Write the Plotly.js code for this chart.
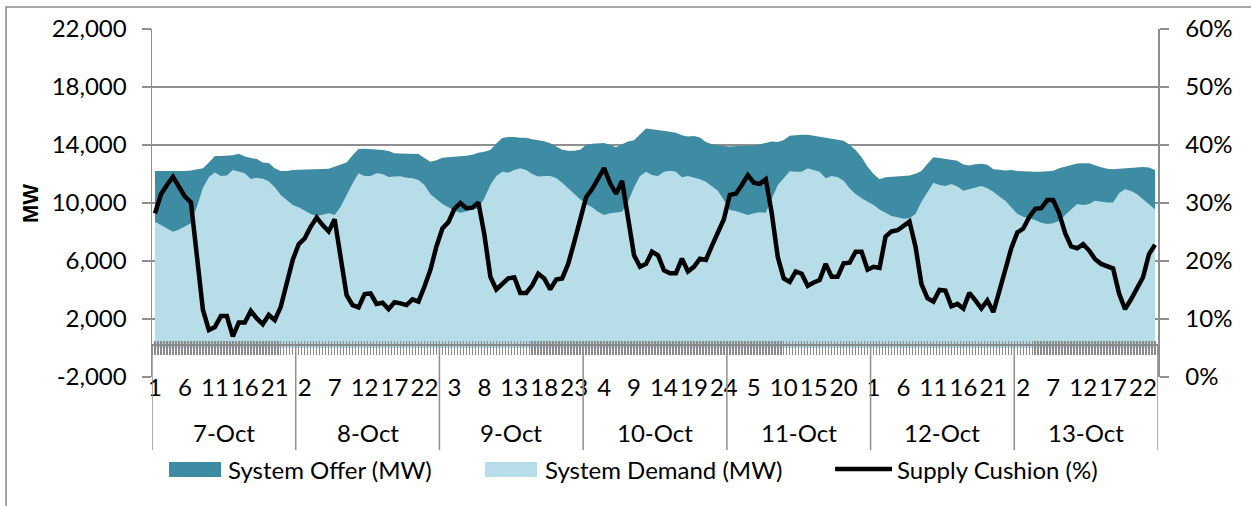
<!DOCTYPE html>
<html>
<head>
<meta charset="utf-8">
<script src="https://cdn.plot.ly/plotly-3.0.1.min.js"></script>
<style>
  html, body { margin: 0; padding: 0; background: #ffffff; }
  #chart { width: 1251px; height: 506px; }
</style>
</head>
<body>
<div id="chart"></div>
<script>
// ---- categories ----
const days = ["7-Oct", "8-Oct", "9-Oct", "10-Oct", "11-Oct", "12-Oct", "13-Oct"];
const hoursOfDay = [1,2,3,4,5,6,7,8,9,10,11,12,13,14,15,16,17,18,19,20,21,22,23,24];

// ---- series values (hourly, 7 days x 24 h) ----
const systemOffer = [
  12200,12200,12200,12200,12150,12200,12250,12350,12400,12800,13250,13250,13250,13300,13400,13200,13100,13030,12800,12760,12400,12200,12200,12280,
  12300,12300,12320,12320,12350,12370,12500,12650,12800,13300,13720,13750,13730,13700,13650,13580,13430,13410,13400,13400,13380,13100,12850,12950,
  13120,13150,13170,13200,13260,13330,13460,13530,13650,14100,14480,14560,14560,14500,14500,14390,14330,14260,14120,13900,13680,13610,13610,13680,
  14020,14090,14100,14130,14000,13840,14060,14250,14330,14740,15130,15090,15050,15000,14920,14850,14670,14580,14620,14510,14200,14050,13980,13930,
  13900,13950,13950,13950,13950,14040,14130,14250,14200,14350,14640,14700,14710,14710,14640,14560,14500,14440,14350,14300,14020,13650,13150,12500,
  12000,11630,11770,11810,11820,11840,11900,12020,12200,12700,13150,13110,13060,13020,12920,12660,12590,12680,12700,12640,12320,12300,12250,12270,
  12200,12190,12160,12160,12160,12180,12230,12390,12500,12660,12720,12740,12740,12610,12460,12370,12330,12370,12400,12440,12460,12480,12440,12280
];
const systemDemand = [
  8710,8480,8250,8020,8180,8370,8600,9750,11030,11790,12100,11870,11900,12280,12180,12050,11660,11750,11680,11500,11080,10550,10200,9860,
  9700,9470,9240,9100,9170,9290,9170,9750,10550,11360,12050,11870,11870,12050,12000,11800,11820,11840,11740,11700,11590,11240,10600,10250,
  9930,9700,9470,9330,9440,9560,9630,10320,11240,11860,12160,12090,12280,12390,12280,12000,11820,11860,11860,11720,11400,11010,10620,10260,
  9930,9700,9400,9170,9290,9360,9400,10090,11080,11860,12160,11930,11860,12160,12230,12160,11770,11860,11770,11630,11470,11170,10850,10200,
  9520,9450,9330,9170,9290,9360,9330,10320,11240,11700,12190,12160,12160,12390,12280,12160,11700,11860,11770,11540,11010,10620,10320,10090,
  9860,9560,9330,9100,9010,8920,8940,9240,10090,10780,11400,11240,11170,11310,11130,10850,10940,11080,11170,11010,10780,10450,10150,9700,
  9260,9060,8940,8830,8640,8550,8600,8780,9170,9520,9930,9860,9930,10160,10070,10030,10030,10670,10940,10830,10600,10280,9910,9560
];
const supplyCushion = [
  28.2,31.5,33.1,34.5,32.8,31.1,30.1,20.5,11.6,8.1,8.6,10.5,10.5,7.0,9.4,9.4,11.4,10.1,9.1,10.7,9.8,12.1,16.4,20.2,
  22.9,23.9,25.9,27.5,26.2,25.1,27.2,20.7,14.1,12.4,12.0,14.3,14.4,12.6,12.8,11.7,12.9,12.7,12.4,13.4,13.0,15.6,18.5,22.5,
  25.6,26.7,29.0,30.0,29.1,29.2,30.1,24.6,17.3,15.1,16.0,17.0,17.2,14.5,14.5,15.8,17.8,17.0,15.1,16.8,17.0,19.5,23.2,27.1,
  31.0,32.4,34.3,36.0,33.4,31.6,33.8,27.1,21.0,19.0,19.5,21.6,21.0,18.4,17.9,17.9,20.4,18.2,19.0,20.4,20.2,22.6,25.0,27.2,
  31.4,31.6,33.1,34.8,33.5,33.3,34.1,28.2,20.7,17.0,16.4,18.2,17.8,15.7,16.3,16.7,19.5,17.3,17.3,19.6,19.7,21.6,21.6,18.5,
  19.0,18.8,24.2,25.1,25.3,26.0,26.8,22.5,16.0,13.6,13.0,15.0,14.9,12.2,12.6,11.8,14.5,13.2,11.8,13.2,11.2,14.8,18.5,22.2,
  24.9,25.6,27.6,29.0,29.1,30.5,30.5,28.2,24.8,22.5,22.2,22.9,21.8,20.3,19.5,19.0,18.7,14.4,11.7,13.4,15.3,17.2,21.2,22.8
];

// ---- tick labels ----
const leftTickVals = [-2000, 2000, 6000, 10000, 14000, 18000, 22000];
const leftTickText = ["-2,000", "2,000", "6,000", "10,000", "14,000", "18,000", "22,000"];
const rightTickVals = [0, 10, 20, 30, 40, 50, 60];
const rightTickText = ["0%", "10%", "20%", "30%", "40%", "50%", "60%"];
const hourLabelStep = 5;
const seriesNames = ["System Offer (MW)", "System Demand (MW)", "Supply Cushion (%)"];

// ---- build category positions ----
const nPts = systemOffer.length;
const hourCat = [];
for (let d = 0; d < days.length; d++) for (let h = 0; h < hoursOfDay.length; h++) hourCat.push(hoursOfDay[h]);
const xIdx = hourCat.map((_, i) => i);
const tickVals = xIdx.filter(i => i % hourLabelStep === 0);
const tickText = tickVals.map(i => String(hourCat[i]));

const FONT = "Lato, 'Open Sans', sans-serif";
const FS = 24;
const GRID = "#8f8f8f";
const OFFER = "#3d8ca3";
const DEMAND = "#b7dde8";

const yMin = -2000, yMax = 22000;
const zeroPos = 0.091;
const xr = [-0.5, nPts - 0.5];

const traces = [
  { x: xIdx, y: systemOffer, name: seriesNames[0], type: "scatter", mode: "lines",
    fill: "tozeroy", fillcolor: OFFER, line: { width: 0, color: OFFER }, hoverinfo: "skip" },
  { x: xIdx, y: systemDemand, name: seriesNames[1], type: "scatter", mode: "lines",
    fill: "tozeroy", fillcolor: DEMAND, line: { width: 0, color: DEMAND }, hoverinfo: "skip" },
  { x: xIdx, y: supplyCushion, name: seriesNames[2], type: "scatter", mode: "lines",
    yaxis: "y2", line: { width: 4.5, color: "#000000" }, hoverinfo: "skip" },
  { x: [], y: [], xaxis: "x2", showlegend: false, hoverinfo: "skip" },
  { x: [], y: [], xaxis: "x3", showlegend: false, hoverinfo: "skip" }
];

const shapes = [];
for (let k = 0; k <= days.length; k++) {
  shapes.push({ type: "line", xref: "x", yref: "paper", x0: 24 * k - 0.5, x1: 24 * k - 0.5,
    y0: zeroPos, y1: -0.21, line: { color: GRID, width: 1.5 } });
}
// outer chart border
shapes.push({ type: "rect", xref: "paper", yref: "paper", x0: -0.1451, x1: 1.094, y0: -0.40, y1: 1.0632,
  line: { color: "#8a8a8a", width: 1.5 }, fillcolor: "rgba(0,0,0,0)", layer: "below" });

// legend (drawn below the plot, Excel style)
const legY = -0.2644;
const legSw = [
  { x0: 0.0169, x1: 0.0686, color: OFFER },
  { x0: 0.3310, x1: 0.3827, color: DEMAND }
];
legSw.forEach(s => shapes.push({ type: "rect", xref: "paper", yref: "paper",
  x0: s.x0, x1: s.x1, y0: -0.2874, y1: -0.2443, fillcolor: s.color, line: { width: 0 } }));
shapes.push({ type: "line", xref: "paper", yref: "paper", x0: 0.679, x1: 0.7356, y0: legY, y1: legY,
  line: { color: "#000", width: 4.5 } });
const legTextX = [0.0736, 0.3887, 0.7386];

const annotations = days.map((d, k) => ({
  text: d, xref: "x", yref: "paper", x: 24 * k + 11.5, y: -0.160,
  xanchor: "center", yanchor: "middle", showarrow: false,
  font: { family: FONT, size: FS, color: "#000" }
}));
seriesNames.forEach((n, i) => annotations.push({
  text: n, xref: "paper", yref: "paper", x: legTextX[i], y: legY,
  xanchor: "left", yanchor: "middle", showarrow: false,
  font: { family: FONT, size: FS, color: "#000" }
}));
annotations.push({ text: "<b>MW</b>", xref: "paper", yref: "paper", x: -0.1213, y: 0.5,
  xanchor: "center", yanchor: "middle", textangle: -90, showarrow: false,
  font: { family: "'Liberation Sans', Arial, sans-serif", size: 22, color: "#000", weight: "bold" } });

const hatchAxis = (ticks, len) => ({
  overlaying: "x", anchor: "free", position: zeroPos, range: xr,
  tickmode: "linear", tick0: -0.5, dtick: 0.5, ticks: ticks, ticklen: len, tickwidth: 1.5,
  tickcolor: "#8a8a8a", showticklabels: false, showgrid: false, zeroline: false,
  showline: true, linecolor: "#8a8a8a", linewidth: 2, fixedrange: true
});

const layout = {
  width: 1251, height: 506,
  margin: { l: 152, r: 93, t: 29, b: 129 },
  paper_bgcolor: "#ffffff", plot_bgcolor: "#ffffff",
  font: { family: FONT, size: FS, color: "#000" },
  showlegend: false,
  xaxis: { range: xr, tickmode: "array", tickvals: tickVals, ticktext: tickText,
    ticks: "", showgrid: false, zeroline: false, showline: false, ticklabelstandoff: -6,
    tickfont: { family: FONT, size: FS }, fixedrange: true },
  xaxis2: hatchAxis("outside", 9),
  xaxis3: hatchAxis("inside", 3),
  yaxis: { range: [yMin, yMax], tickmode: "array", tickvals: leftTickVals, ticktext: leftTickText,
    showgrid: true, gridcolor: GRID, gridwidth: 1.3, zeroline: false,
    showline: true, linecolor: GRID, linewidth: 1.5, ticks: "outside", ticklen: 9, tickcolor: GRID, tickwidth: 1.3,
    ticklabelstandoff: 10,
    tickfont: { family: FONT, size: FS }, fixedrange: true },
  yaxis2: { overlaying: "y", side: "right", range: [0, 60], tickmode: "array", tickvals: rightTickVals,
    ticktext: rightTickText, showgrid: false, zeroline: false,
    showline: true, linecolor: GRID, linewidth: 1.5, ticks: "outside", ticklen: 9, tickcolor: GRID, tickwidth: 1.3,
    ticklabelstandoff: 12,
    tickfont: { family: FONT, size: FS }, fixedrange: true },
  shapes: shapes,
  annotations: annotations
};

Plotly.newPlot("chart", traces, layout, { staticPlot: true, displayModeBar: false });
</script>
</body>
</html>
